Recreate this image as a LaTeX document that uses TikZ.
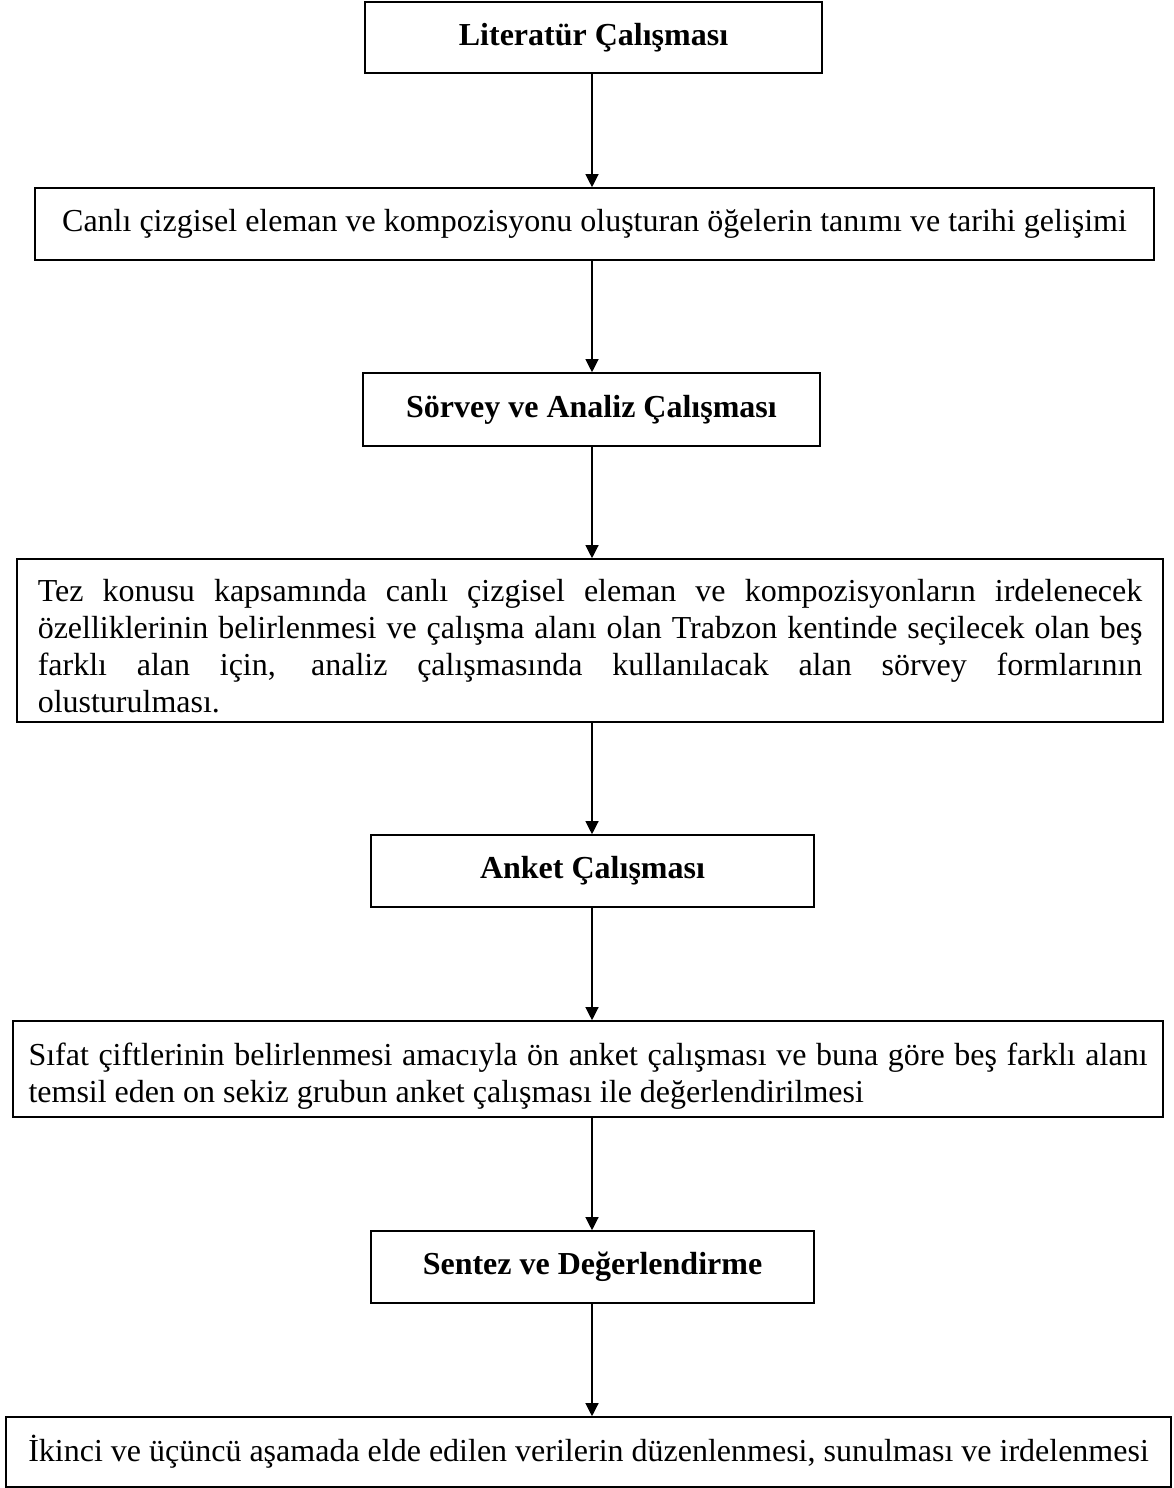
\documentclass[tikz,border=0pt]{standalone}
\usepackage{fontspec}
\setmainfont{Liberation Serif}
\usetikzlibrary{arrows.meta, positioning, calc}
\setlength{\parindent}{0pt}
\tikzset{
  box/.style={draw, line width=1.6pt, inner sep=0pt, font=\fontsize{32}{37}\selectfont},
  head/.style={box, font=\fontsize{32}{37}\selectfont\bfseries, minimum width=#1, minimum height=72pt},
  wide/.style={box, text width=#1, align=justify},
  arr/.style={-{Triangle[length=13pt, width=13pt]}, line width=1.2pt},
}
\begin{document}
\begin{tikzpicture}[x=1pt, y=-1pt]
    \useasboundingbox (0,0) rectangle (1174,1488);
    \coordinate (axis) at (592,0);
    \node[head=457pt, minimum height=71pt] (lit) at (593.5,37.5) {Literatür Çalışması};
    \node[box, minimum width=1119pt, minimum height=72pt] (canli) at (594.5,224)
      {Canlı çizgisel eleman ve kompozisyonu oluşturan öğelerin tanımı ve tarihi gelişimi};
    \node[head=457pt, minimum height=73pt] (sorvey) at (591.5,409.5) {Sörvey ve Analiz Çalışması};
    \node[wide=1104.5pt, minimum width=1146.5pt, minimum height=163pt] (tez) at (590,640.5)
      {\rule{0pt}{34pt}Tez konusu kapsamında canlı çizgisel eleman ve kompozisyonların irdelenecek\linebreak
       özelliklerinin belirlenmesi ve çalışma alanı olan Trabzon kentinde seçilecek olan beş\linebreak
       farklı alan için, analiz çalışmasında kullanılacak alan sörvey formlarının\linebreak
       olusturulması.};
    \node[head=443pt] (anket) at (592.5,871) {Anket Çalışması};
    \node[wide=1119pt, minimum width=1150pt, minimum height=96pt] (sifat) at (588,1069)
      {\rule{0pt}{36pt}Sıfat çiftlerinin belirlenmesi amacıyla ön anket çalışması ve buna göre beş farklı alanı\linebreak
       temsil eden on sekiz grubun anket çalışması ile değerlendirilmesi};
    \node[head=443pt] (sentez) at (592.5,1267) {Sentez ve Değerlendirme};
    \node[box, minimum width=1165pt, minimum height=70pt] (ikinci) at (588.5,1452)
      {İkinci ve üçüncü aşamada elde edilen verilerin düzenlenmesi, sunulması ve irdelenmesi};
    % arrows down the middle
    \draw[arr] (lit.south -| axis) -- (canli.north -| axis);
    \draw[arr] (canli.south -| axis) -- (sorvey.north -| axis);
    \draw[arr] (sorvey.south -| axis) -- (tez.north -| axis);
    \draw[arr] (tez.south -| axis) -- (anket.north -| axis);
    \draw[arr] (anket.south -| axis) -- (sifat.north -| axis);
    \draw[arr] (sifat.south -| axis) -- (sentez.north -| axis);
    \draw[arr] (sentez.south -| axis) -- (ikinci.north -| axis);
\end{tikzpicture}
\end{document}
